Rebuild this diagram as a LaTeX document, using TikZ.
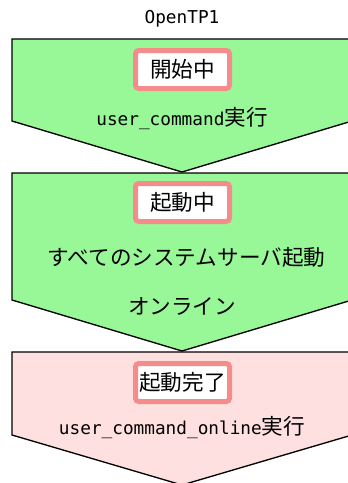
\documentclass[tikz,border=0pt]{standalone}
\usepackage{fontspec}
\newfontfamily\cjk{Noto Sans CJK JP}
\newfontfamily\lat{DejaVu Sans Mono}
\definecolor{stgreen}{RGB}{152,248,152}
\definecolor{stpink}{RGB}{255,224,224}
\definecolor{boxpink}{RGB}{245,140,140}
\newcommand{\latfont}{\lat\fontsize{13.3}{16}\selectfont}
\newcommand{\cjkfont}{\cjk\fontsize{16.2}{18}\selectfont}
\tikzset{
  stagegreen/.style={draw=black, line width=1pt, fill=stgreen},
  stagepink/.style={draw=black, line width=1pt, fill=stpink},
  statebox/.style={draw=boxpink, line width=3.75pt, fill=white, rounded corners=2.5pt,
    minimum width=70.5pt, minimum height=28.5pt, inner sep=0pt, font=\cjkfont},
  label/.style={inner sep=0pt, font=\cjkfont}
}
\begin{document}
\begin{tikzpicture}[x=0.75pt,y=-0.75pt]
\useasboundingbox (0,0) rectangle (348,483);
\clip (0,0) rectangle (348,483);
% stage shapes
\draw[stagegreen] (12,39) -- (352,39) -- (352,121) -- (182,172) -- (12,121) -- cycle;
\draw[stagegreen] (12,173) -- (352,173) -- (352,300) -- (182,351) -- (12,300) -- cycle;
\draw[stagepink] (12,352) -- (352,352) -- (352,435) -- (182,485) -- (12,435) -- cycle;
% title
\node[label, font=\latfont] (title) at (182,19) {OpenTP1};
% stage 1
\node[statebox] (s1) at (182.5,69.5) {開始中};
\node[label] (t1) at (182,119) {{\latfont user\_command}{\cjkfont 実行}};
% stage 2
\node[statebox] (s2) at (182.5,202.5) {起動中};
\node[label] (t2) at (186.5,257) {すべてのシステムサーバ起動};
\node[label] (t3) at (182,306) {オンライン};
% stage 3
\node[statebox] (s3) at (182.5,382.5) {起動完了};
\node[label] (t4) at (182,428) {{\latfont user\_command\_online}{\cjkfont 実行}};
\end{tikzpicture}
\end{document}
